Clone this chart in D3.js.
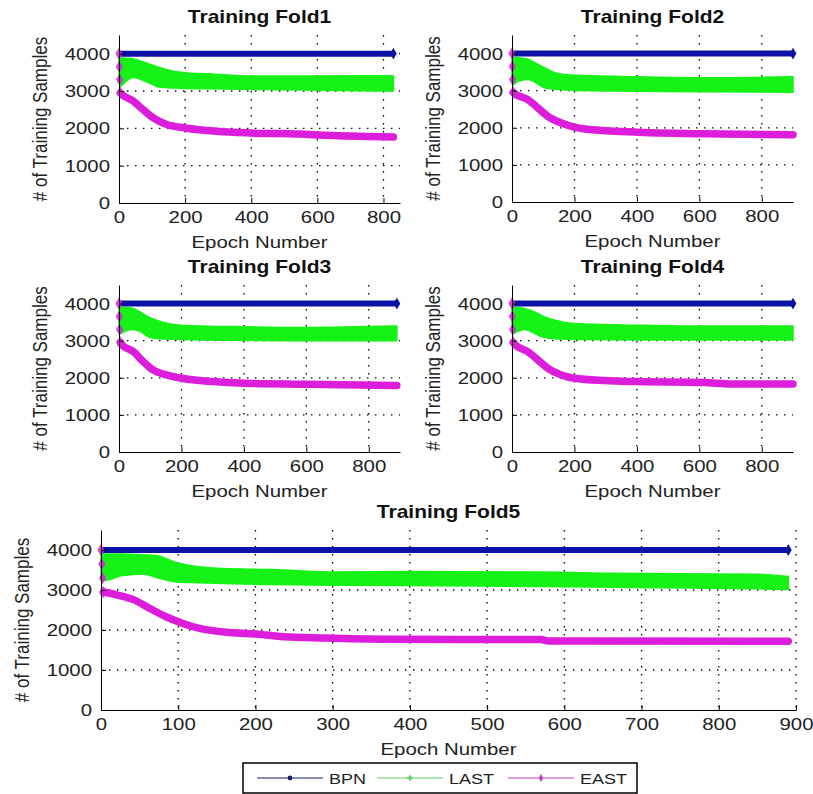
<!DOCTYPE html>
<html>
<head>
<meta charset="utf-8">
<script src="https://cdn.jsdelivr.net/npm/d3@7"></script>
<style>
  body { margin: 0; background: #fff; }
  svg { display: block; font-family: "Liberation Sans", Arial, sans-serif; }
</style>
</head>
<body>
<svg id="chart"></svg>
<script>
// ---- data ----
const foldTitles = ['Training Fold1', 'Training Fold2', 'Training Fold3', 'Training Fold4', 'Training Fold5'];
const seriesNames = ['BPN', 'LAST', 'EAST'];
const yTickValues = [0, 1000, 2000, 3000, 4000];
const xTicksSmall = [0, 200, 400, 600, 800];
const xTicksWide = [0, 100, 200, 300, 400, 500, 600, 700, 800, 900];

// BPN stays flat at the full training set
const bpnValue = 4000;
const lastEpoch = [830, 900, 890, 900, 890];

// LAST is a dense zig-zag: kept as its upper / lower envelope
const fold1LastEpochs = [0, 3, 20, 42, 60, 100, 120, 145, 170, 200, 270, 400, 600, 800, 830];
const fold1LastHigh = [4000, 3890, 3880, 3865, 3820, 3700, 3640, 3570, 3520, 3490, 3460, 3400, 3400, 3410, 3400];
const fold1LastLow = [3300, 3120, 3250, 3360, 3330, 3180, 3110, 3090, 3080, 3070, 3060, 3040, 3020, 3000, 3000];
const fold1EastEpochs = [0, 1, 2, 4, 10, 43, 73, 104, 144, 200, 296, 397, 548, 649, 830];
const fold1East = [4000, 3650, 3300, 2950, 2900, 2730, 2500, 2280, 2100, 2010, 1920, 1875, 1845, 1805, 1765];

const fold2LastEpochs = [0, 3, 19, 51, 83, 104, 137, 190, 403, 616, 900];
const fold2LastHigh = [4000, 3880, 3890, 3850, 3710, 3620, 3484, 3420, 3375, 3348, 3375];
const fold2LastLow = [3300, 3167, 3250, 3303, 3180, 3077, 3040, 3014, 2986, 2968, 2960];
const fold2EastEpochs = [0, 1, 2, 4, 9, 51, 83, 115, 158, 200, 297, 403, 616, 900];
const fold2East = [4000, 3650, 3300, 2950, 2914, 2760, 2534, 2308, 2127, 2018, 1919, 1882, 1837, 1810];

const fold3LastEpochs = [0, 3, 19, 40, 67, 99, 120, 200, 402, 598, 890];
const fold3LastHigh = [4000, 3890, 3893, 3880, 3776, 3620, 3553, 3418, 3374, 3356, 3392];
const fold3LastLow = [3300, 3195, 3250, 3302, 3250, 3087, 3060, 3034, 3010, 2998, 2998];
const fold3EastEpochs = [0, 1, 2, 4, 8, 46, 78, 109, 152, 200, 301, 402, 598, 890];
const fold3East = [4000, 3650, 3300, 2950, 2899, 2702, 2434, 2210, 2076, 1987, 1897, 1852, 1826, 1790];

const fold4LastEpochs = [0, 3, 19, 40, 83, 104, 137, 200, 403, 616, 900];
const fold4LastHigh = [4000, 3890, 3893, 3870, 3732, 3640, 3553, 3463, 3418, 3392, 3392];
const fold4LastLow = [3300, 3195, 3250, 3302, 3150, 3087, 3050, 3034, 3020, 3016, 3016];
const fold4EastEpochs = [0, 1, 2, 4, 9, 51, 83, 115, 158, 200, 297, 403, 616, 702, 900];
const fold4East = [4000, 3650, 3300, 2950, 2899, 2702, 2479, 2255, 2076, 1987, 1924, 1897, 1870, 1834, 1834];

const fold5LastEpochs = [0, 3, 28, 55, 72, 98, 115, 158, 223, 301, 400, 570, 660, 850, 890];
const fold5LastHigh = [4000, 3900, 3900, 3880, 3860, 3680, 3610, 3535, 3510, 3450, 3460, 3450, 3420, 3394, 3340];
const fold5LastLow = [3250, 3236, 3360, 3400, 3310, 3200, 3187, 3162, 3137, 3120, 3110, 3090, 3070, 3030, 3012];
const fold5EastEpochs = [0, 1, 2, 3, 20, 42, 64, 85, 107, 129, 172, 200, 237, 288, 374, 570, 580, 890];
const fold5East = [4000, 3650, 3300, 2950, 2880, 2760, 2531, 2324, 2158, 2033, 1930, 1900, 1830, 1800, 1770, 1760, 1725, 1720];

// ---- layout ----
const width = 813;
const height = 794;
const textStretch = 1.2;   // the source picture is wider than tall
const startMarkers = 3;    // first EAST points show up only as markers on the y axis

const panels = [
  { left: 119, top: 35, w: 281, h: 168, xMax: 850, ticks: xTicksSmall },
  { left: 512, top: 35, w: 281, h: 167, xMax: 900, ticks: xTicksSmall },
  { left: 119, top: 285, w: 281, h: 167, xMax: 900, ticks: xTicksSmall },
  { left: 512, top: 285, w: 281, h: 167, xMax: 900, ticks: xTicksSmall },
  { left: 101, top: 530, w: 695, h: 180, xMax: 900, ticks: xTicksWide }
];

const lastData = [
  [fold1LastEpochs, fold1LastHigh, fold1LastLow],
  [fold2LastEpochs, fold2LastHigh, fold2LastLow],
  [fold3LastEpochs, fold3LastHigh, fold3LastLow],
  [fold4LastEpochs, fold4LastHigh, fold4LastLow],
  [fold5LastEpochs, fold5LastHigh, fold5LastLow]
];
const eastData = [
  [fold1EastEpochs, fold1East],
  [fold2EastEpochs, fold2East],
  [fold3EastEpochs, fold3East],
  [fold4EastEpochs, fold4East],
  [fold5EastEpochs, fold5East]
];

const colors = { BPN: '#0c12a6', LAST: '#16f216', EAST: '#dc1edc' };
const textColor = '#222';

const svg = d3.select('#chart')
  .attr('width', width)
  .attr('height', height);

svg.append('rect').attr('width', width).attr('height', height).attr('fill', '#fff');

panels.forEach((p, i) => {
  const x = d3.scaleLinear().domain([0, p.xMax]).range([p.left, p.left + p.w]);
  const y = d3.scaleLinear().domain([0, 4500]).range([p.top + p.h, p.top]);
  const g = svg.append('g');

  // dotted grid
  g.selectAll('.vgrid')
    .data(p.ticks.filter(t => t > 0))
    .enter().append('line')
    .attr('x1', d => x(d)).attr('x2', d => x(d))
    .attr('y1', p.top).attr('y2', p.top + p.h)
    .attr('stroke', '#000').attr('stroke-width', 1.3)
    .attr('stroke-dasharray', '1.4,6.6');
  g.selectAll('.hgrid')
    .data(yTickValues.filter(t => t > 0))
    .enter().append('line')
    .attr('x1', p.left).attr('x2', p.left + p.w)
    .attr('y1', d => y(d)).attr('y2', d => y(d))
    .attr('stroke', '#000').attr('stroke-width', 1.3)
    .attr('stroke-dasharray', '1.4,6.6');

  // LAST band
  const [le, lh, ll] = lastData[i];
  const band = le.map((e, k) => ({ e: e, hi: lh[k], lo: ll[k] }));
  g.append('path')
    .datum(band)
    .attr('fill', colors.LAST)
    .attr('stroke', colors.LAST)
    .attr('stroke-width', 1.5)
    .attr('d', d3.area()
      .curve(d3.curveMonotoneX)
      .x(d => x(d.e))
      .y0(d => y(d.lo))
      .y1(d => y(d.hi)));

  // BPN
  const bpn = [0, lastEpoch[i]].map(e => ({ e: e, v: bpnValue }));
  g.append('path')
    .datum(bpn)
    .attr('fill', 'none')
    .attr('stroke', colors.BPN)
    .attr('stroke-width', 6)
    .attr('d', d3.line().x(d => x(d.e)).y(d => y(d.v)));
  g.append('path')
    .attr('d', d3.symbol(d3.symbolDiamond, 40)())
    .attr('transform', `translate(${x(lastEpoch[i])},${y(bpnValue)})`)
    .attr('fill', colors.BPN);

  // EAST
  const [ee, ev] = eastData[i];
  const east = ee.map((e, k) => ({ e: e, v: ev[k] }));
  g.append('path')
    .datum(east.slice(startMarkers))
    .attr('fill', 'none')
    .attr('stroke', colors.EAST)
    .attr('stroke-width', 7.5)
    .attr('stroke-linecap', 'round')
    .attr('stroke-linejoin', 'round')
    .attr('d', d3.line().curve(d3.curveMonotoneX).x(d => x(d.e)).y(d => y(d.v)));
  g.selectAll('.eastStart')
    .data(east.slice(0, startMarkers + 1))
    .enter().append('path')
    .attr('d', d3.symbol(d3.symbolDiamond, 45)())
    .attr('transform', d => `translate(${x(d.e)},${y(d.v)})`)
    .attr('fill', colors.EAST)
    .attr('opacity', 0.85);

  // axes
  const xAxis = d3.axisBottom(x)
    .tickValues(p.ticks)
    .tickFormat(d3.format('d'))
    .tickSizeInner(-5)
    .tickSizeOuter(0)
    .tickPadding(8);
  const xg = g.append('g')
    .attr('transform', `translate(0,${p.top + p.h})`)
    .call(xAxis);
  xg.select('.domain').attr('stroke', '#000');
  xg.selectAll('text')
    .attr('font-size', 17)
    .attr('font-family', '"Liberation Sans", Arial, sans-serif')
    .attr('fill', textColor)
    .attr('transform', `scale(${textStretch},1)`);

  const yAxis = d3.axisLeft(y)
    .tickValues(yTickValues)
    .tickFormat(d3.format('d'))
    .tickSizeInner(-5)
    .tickSizeOuter(0)
    .tickPadding(8);
  const yg = g.append('g')
    .attr('transform', `translate(${p.left},0)`)
    .call(yAxis);
  yg.select('.domain').attr('stroke', '#000');
  yg.selectAll('text')
    .attr('font-size', 17)
    .attr('font-family', '"Liberation Sans", Arial, sans-serif')
    .attr('fill', textColor)
    .attr('x', -7.5)
    .attr('transform', `scale(${textStretch},1)`);

  // labels
  const cx = p.left + p.w / 2;
  g.append('text')
    .attr('transform', `translate(${cx},${p.top - 12}) scale(${textStretch},1)`)
    .attr('text-anchor', 'middle')
    .attr('font-weight', 'bold')
    .attr('font-size', 17.5)
    .attr('fill', '#111')
    .text(foldTitles[i]);
  g.append('text')
    .attr('transform', `translate(${cx},${p.top + p.h + 45}) scale(${textStretch},1)`)
    .attr('text-anchor', 'middle')
    .attr('font-size', 17)
    .attr('fill', textColor)
    .text('Epoch Number');
  g.append('text')
    .attr('transform', `translate(${p.left - 72},${p.top + p.h / 2}) scale(${textStretch},1) rotate(-90)`)
    .attr('text-anchor', 'middle')
    .attr('font-size', 17)
    .attr('fill', textColor)
    .text('# of Training Samples');
});

// legend
const legend = svg.append('g');
legend.append('rect')
  .attr('x', 243).attr('y', 763)
  .attr('width', 394).attr('height', 30)
  .attr('fill', '#fff')
  .attr('stroke', '#000')
  .attr('stroke-width', 1.5);

const legendX = [257, 377, 508];
const legendColors = ['#1a1a70', '#5fd65f', '#c040c0'];
const legendSymbols = [d3.symbolCircle, d3.symbolCross, d3.symbolDiamond];
seriesNames.forEach((name, k) => {
  const lx = legendX[k];
  legend.append('line')
    .attr('x1', lx).attr('x2', lx + 66)
    .attr('y1', 778).attr('y2', 778)
    .attr('stroke', legendColors[k])
    .attr('stroke-width', 1.2);
  legend.append('path')
    .attr('d', d3.symbol(legendSymbols[k], 18)())
    .attr('transform', `translate(${lx + 33},778)`)
    .attr('fill', legendColors[k]);
  legend.append('text')
    .attr('transform', `translate(${lx + 72},784) scale(${textStretch},1)`)
    .attr('font-size', 15)
    .attr('fill', textColor)
    .text(name);
});
</script>
</body>
</html>
